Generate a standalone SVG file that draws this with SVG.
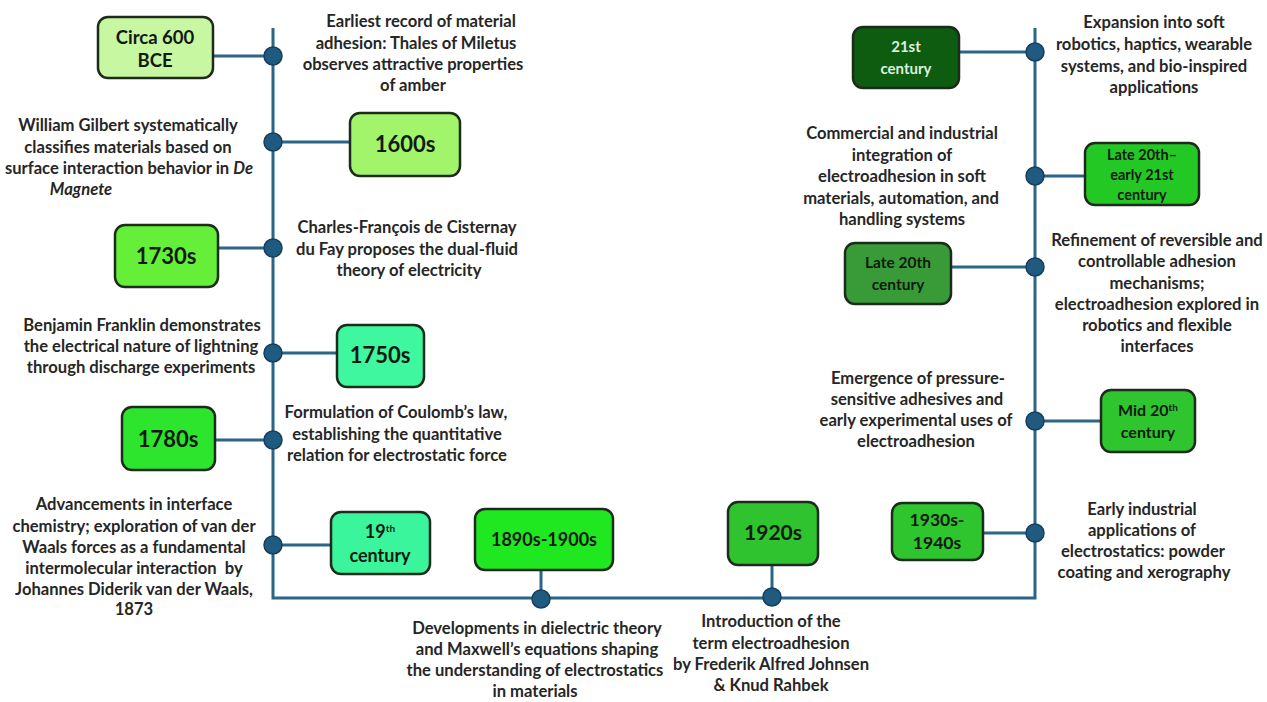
<svg xmlns="http://www.w3.org/2000/svg" width="1267" height="702" viewBox="0 0 1267 702">
<style>
.bg{fill:#ffffff}
.ln{stroke:#2b6587;stroke-width:3;fill:none}
.dot{fill:#1f5a80;stroke:#173f5c;stroke-width:1.5}
.box{stroke:#1d2b1d;stroke-width:2.5}
.lbl{font-family:Lato,"Open Sans",sans-serif;font-weight:700;font-size:16.6px;fill:#262626;text-anchor:middle}
.bt{font-family:Lato,"Open Sans",sans-serif;font-weight:700;fill:#101a10;text-anchor:middle}
.sup{font-size:10px}
</style>
<rect class="bg" width="1267" height="702"/>
<g id="connectors">
<polyline class="ln" points="273,28 273,598 1035,598 1035,28"/>
<line class="ln" x1="213" y1="56" x2="273" y2="56"/>
<line class="ln" x1="273" y1="142" x2="350" y2="142"/>
<line class="ln" x1="218" y1="248" x2="273" y2="248"/>
<line class="ln" x1="273" y1="353" x2="337" y2="353"/>
<line class="ln" x1="215" y1="440" x2="273" y2="440"/>
<line class="ln" x1="273" y1="545" x2="331" y2="545"/>
<line class="ln" x1="541" y1="570" x2="541" y2="598"/>
<line class="ln" x1="772" y1="565" x2="772" y2="598"/>
<line class="ln" x1="983" y1="533" x2="1035" y2="533"/>
<line class="ln" x1="1035" y1="421" x2="1101" y2="421"/>
<line class="ln" x1="951" y1="267" x2="1035" y2="267"/>
<line class="ln" x1="1035" y1="176" x2="1085" y2="176"/>
<line class="ln" x1="959" y1="52" x2="1035" y2="52"/>
</g>
<g id="dots">
<circle class="dot" cx="273" cy="56" r="9"/>
<circle class="dot" cx="273" cy="142" r="9"/>
<circle class="dot" cx="273" cy="248" r="9"/>
<circle class="dot" cx="273" cy="353" r="9"/>
<circle class="dot" cx="273" cy="440" r="9"/>
<circle class="dot" cx="273" cy="545" r="9"/>
<circle class="dot" cx="541" cy="599" r="9"/>
<circle class="dot" cx="772" cy="597" r="9"/>
<circle class="dot" cx="1035" cy="533" r="9"/>
<circle class="dot" cx="1035" cy="421" r="9"/>
<circle class="dot" cx="1035" cy="267" r="9"/>
<circle class="dot" cx="1035" cy="176" r="9"/>
<circle class="dot" cx="1035" cy="52" r="9"/>
</g>
<g id="n-600bce">
<rect class="box" x="98" y="17" width="115" height="61" rx="10" fill="#c8f7a2"/>
<text class="bt" font-size="18.5"><tspan x="155" y="44">Circa 600</tspan><tspan x="155" y="67">BCE</tspan></text>
<text class="lbl"><tspan x="421" y="27">Earliest record of material</tspan><tspan x="416" y="49">adhesion: Thales of Miletus</tspan><tspan x="413" y="70">observes attractive properties</tspan><tspan x="413" y="91">of amber</tspan></text>
</g>
<g id="n-1600s">
<rect class="box" x="350" y="113" width="110" height="63" rx="10" fill="#a2f46a"/>
<text class="bt" font-size="22" x="405" y="152">1600s</text>
<text class="lbl"><tspan x="128" y="131">William Gilbert systematically</tspan><tspan x="128" y="153">classifies materials based on</tspan><tspan x="129" y="174">surface interaction behavior in <tspan font-style="italic">De</tspan></tspan><tspan x="81" y="195" font-style="italic">Magnete</tspan></text>
</g>
<g id="n-1730s">
<rect class="box" x="115" y="225" width="103" height="62" rx="10" fill="#66ef38"/>
<text class="bt" font-size="22" x="166" y="264">1730s</text>
<text class="lbl"><tspan x="407" y="233">Charles-François de Cisternay</tspan><tspan x="407" y="255">du Fay proposes the dual-fluid</tspan><tspan x="409" y="276">theory of electricity</tspan></text>
</g>
<g id="n-1750s">
<rect class="box" x="337" y="325" width="87" height="62" rx="10" fill="#3ef79e"/>
<text class="bt" font-size="22" x="380" y="363">1750s</text>
<text class="lbl"><tspan x="142" y="331">Benjamin Franklin demonstrates</tspan><tspan x="141" y="352">the electrical nature of lightning</tspan><tspan x="141" y="373">through discharge experiments</tspan></text>
</g>
<g id="n-1780s">
<rect class="box" x="122" y="407" width="93" height="63" rx="10" fill="#2ee52e"/>
<text class="bt" font-size="22" x="168" y="447">1780s</text>
<text class="lbl"><tspan x="396" y="418">Formulation of Coulomb’s law,</tspan><tspan x="397" y="440">establishing the quantitative</tspan><tspan x="397" y="461">relation for electrostatic force</tspan></text>
</g>
<g id="n-19th">
<rect class="box" x="331" y="512" width="99" height="62" rx="10" fill="#3af59b"/>
<text class="bt" font-size="18"><tspan x="380" y="538">19<tspan class="sup" dy="-6">th</tspan></tspan><tspan x="380" y="562">century</tspan></text>
<text class="lbl"><tspan x="134" y="510">Advancements in interface</tspan><tspan x="134" y="532">chemistry; exploration of van der</tspan><tspan x="134" y="553">Waals forces as a fundamental</tspan><tspan x="134" y="574">intermolecular interaction&#160; by</tspan><tspan x="134" y="595">Johannes Diderik van der Waals,</tspan><tspan x="134" y="615">1873</tspan></text>
</g>
<g id="n-1890s">
<rect class="box" x="475" y="509" width="138" height="61" rx="10" fill="#20e820"/>
<text class="bt" font-size="18" x="544" y="546">1890s-1900s</text>
<text class="lbl"><tspan x="537" y="634">Developments in dielectric theory</tspan><tspan x="537" y="655">and Maxwell’s equations shaping</tspan><tspan x="535" y="676">the understanding of electrostatics</tspan><tspan x="535" y="697">in materials</tspan></text>
</g>
<g id="n-1920s">
<rect class="box" x="728" y="502" width="90" height="63" rx="10" fill="#2fc42f"/>
<text class="bt" font-size="21" x="773" y="540">1920s</text>
<text class="lbl"><tspan x="771" y="627">Introduction of the</tspan><tspan x="771" y="649">term electroadhesion</tspan><tspan x="771" y="670">by Frederik Alfred Johnsen</tspan><tspan x="771" y="691">&amp; Knud Rahbek</tspan></text>
</g>
<g id="n-1930s">
<rect class="box" x="892" y="503" width="91" height="57" rx="10" fill="#2ec52e"/>
<text class="bt" font-size="17.5"><tspan x="937" y="526">1930s-</tspan><tspan x="937" y="549">1940s</tspan></text>
<text class="lbl"><tspan x="1142" y="515">Early industrial</tspan><tspan x="1142" y="536">applications of</tspan><tspan x="1143" y="557">electrostatics: powder</tspan><tspan x="1144" y="578">coating and xerography</tspan></text>
</g>
<g id="n-mid20th">
<rect class="box" x="1101" y="390" width="94" height="62" rx="10" fill="#2ec52e"/>
<text class="bt" font-size="16"><tspan x="1148" y="416">Mid 20<tspan class="sup" dy="-5">th</tspan></tspan><tspan x="1148" y="438">century</tspan></text>
<text class="lbl"><tspan x="918" y="384">Emergence of pressure-</tspan><tspan x="917" y="405">sensitive adhesives and</tspan><tspan x="916" y="426">early experimental uses of</tspan><tspan x="916" y="447">electroadhesion</tspan></text>
</g>
<g id="n-late20th">
<rect class="box" x="845" y="243" width="106" height="61" rx="10" fill="#389b38"/>
<text class="bt" font-size="15.5"><tspan x="898" y="268">Late 20th</tspan><tspan x="898" y="290">century</tspan></text>
<text class="lbl"><tspan x="1157" y="246">Refinement of reversible and</tspan><tspan x="1157" y="267">controllable adhesion</tspan><tspan x="1157" y="289">mechanisms;</tspan><tspan x="1157" y="310">electroadhesion explored in</tspan><tspan x="1157" y="331">robotics and flexible</tspan><tspan x="1157" y="352">interfaces</tspan></text>
</g>
<g id="n-late20early21">
<rect class="box" x="1085" y="143" width="114" height="62" rx="10" fill="#24c824"/>
<text class="bt" font-size="14.5"><tspan x="1142" y="160">Late 20th–</tspan><tspan x="1142" y="180">early 21st</tspan><tspan x="1142" y="200">century</tspan></text>
<text class="lbl"><tspan x="902" y="139">Commercial and industrial</tspan><tspan x="902" y="161">integration of</tspan><tspan x="902" y="182">electroadhesion in soft</tspan><tspan x="901" y="204">materials, automation, and</tspan><tspan x="902" y="225">handling systems</tspan></text>
</g>
<g id="n-21st">
<rect class="box" x="853" y="27" width="106" height="61" rx="10" fill="#0e5c10"/>
<text class="bt" font-size="15" style="fill:#dcf0dc"><tspan x="906" y="52">21st</tspan><tspan x="906" y="74">century</tspan></text>
<text class="lbl"><tspan x="1154" y="28">Expansion into soft</tspan><tspan x="1154" y="50">robotics, haptics, wearable</tspan><tspan x="1154" y="72">systems, and bio-inspired</tspan><tspan x="1154" y="93">applications</tspan></text>
</g>
</svg>
